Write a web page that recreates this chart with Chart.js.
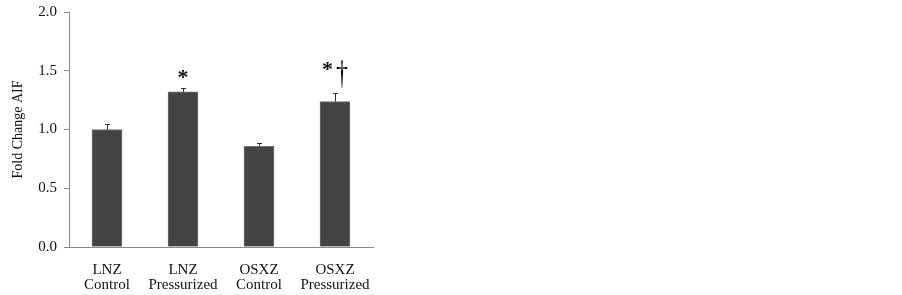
<!DOCTYPE html>
<html>
<head>
<meta charset="utf-8">
<script src="https://cdn.jsdelivr.net/npm/chart.js@4.4.1/dist/chart.umd.min.js"></script>
<style>
  html, body { margin: 0; padding: 0; background: #fff; }
  #wrap { width: 902px; height: 295px; position: relative; }
</style>
</head>
<body>
<div id="wrap"><canvas id="myChart"></canvas></div>
<script>
// values
let groups = [["LNZ", "Control"], ["LNZ", "Pressurized"], ["OSXZ", "Control"], ["OSXZ", "Pressurized"]];
let foldChange = [1.00, 1.32, 0.857, 1.237];
let errorUp = [0.044, 0.033, 0.028, 0.071];
let marks = ["", "*", "", "*\u2020"];
let yTicks = [0, 0.5, 1.0, 1.5, 2.0];

let serif = "'Liberation Serif', 'Times New Roman', serif";

// measure one glyph in a given font
function glyphBox(ctx, ch) {
  ctx.font = ch == "*" ? "bold 22px " + serif : "24px " + serif;
  let m = ctx.measureText(ch);
  return {
    ch: ch,
    font: ctx.font,
    w: m.actualBoundingBoxLeft + m.actualBoundingBoxRight,
    left: m.actualBoundingBoxLeft,
    asc: m.actualBoundingBoxAscent,
    desc: m.actualBoundingBoxDescent
  };
}

// draws the upper error whiskers and the significance marks
let errorBars = {
  id: "errorBars",
  afterDatasetsDraw: function (chart) {
    let ctx = chart.ctx;
    let meta = chart.getDatasetMeta(0);
    let y = chart.scales.y;
    ctx.save();
    for (let i = 0; i < foldChange.length; i++) {
      let bar = meta.data[i];
      let cx = Math.round(bar.x);
      let top = Math.round(y.getPixelForValue(foldChange[i] + errorUp[i]));
      let base = y.getPixelForValue(foldChange[i]);
      ctx.strokeStyle = "#333";
      ctx.lineWidth = 1;
      ctx.beginPath();
      ctx.moveTo(cx + 0.5, base);
      ctx.lineTo(cx + 0.5, top);
      ctx.moveTo(cx - 2, top + 0.5);
      ctx.lineTo(cx + 3, top + 0.5);
      ctx.stroke();

      if (!marks[i]) continue;
      let glyphs = marks[i].split("").map(ch => glyphBox(ctx, ch));
      let gap = 3;
      let total = glyphs.reduce((s, g) => s + g.w, 0) + gap * (glyphs.length - 1);
      let x = bar.x - total / 2;
      let hasDagger = marks[i].indexOf("\u2020") >= 0;
      let dagTop = top - 5 - 26;
      ctx.fillStyle = "#111";
      ctx.textAlign = "left";
      ctx.textBaseline = "alphabetic";
      glyphs.forEach(function (g) {
        ctx.font = g.font;
        if (g.ch == "*") {
          let baseY = hasDagger ? dagTop + g.asc : top - 9 - g.desc;
          ctx.fillText(g.ch, x + g.left, baseY);
        } else {
          // dagger stretched so its stem runs down toward the whisker
          let k = 26 / (g.asc + g.desc);
          ctx.save();
          ctx.translate(x + g.left, dagTop + g.asc * k);
          ctx.scale(1, k);
          ctx.fillText(g.ch, 0, 0);
          ctx.restore();
        }
        x += g.w + gap;
      });
    }
    ctx.restore();
  }
};

new Chart("myChart", {
  type: "bar",
  data: {
    labels: groups,
    datasets: [{
      data: foldChange,
      backgroundColor: "#444444",
      borderColor: "#707070",
      borderWidth: 1,
      barThickness: 30
    }]
  },
  plugins: [errorBars],
  options: {
    responsive: true,
    maintainAspectRatio: false,
    animation: false,
    layout: { padding: { left: 0, right: 529, top: 12, bottom: 0 } },
    plugins: {
      legend: { display: false },
      tooltip: { enabled: false }
    },
    scales: {
      x: {
        offset: true,
        grid: { display: false },
        border: { display: true, color: "#8a8a8a", width: 1 },
        ticks: {
          color: "#111",
          font: { family: serif, size: 15, lineHeight: 1.0 },
          padding: 8,
          maxRotation: 0,
          autoSkip: false
        },
        afterFit: function (scale) { scale.height = 48; }
      },
      y: {
        min: 0,
        max: 2,
        afterBuildTicks: function (scale) {
          scale.ticks = yTicks.map(v => ({ value: v }));
        },
        grid: {
          drawOnChartArea: false,
          drawTicks: true,
          tickLength: 5,
          color: "#8a8a8a"
        },
        border: { display: true, color: "#8a8a8a", width: 1 },
        ticks: {
          color: "#111",
          font: { family: serif, size: 15 },
          padding: 7,
          callback: function (v) { return Number(v).toFixed(1); }
        },
        title: {
          display: true,
          text: "Fold Change AIF",
          color: "#111",
          font: { family: serif, size: 14 },
          padding: { top: 10, bottom: 0 }
        },
        afterFit: function (scale) {
          scale.width = 69;
          scale.paddingTop = 0;
          scale.paddingBottom = 0;
        }
      }
    }
  }
});
</script>
</body>
</html>
